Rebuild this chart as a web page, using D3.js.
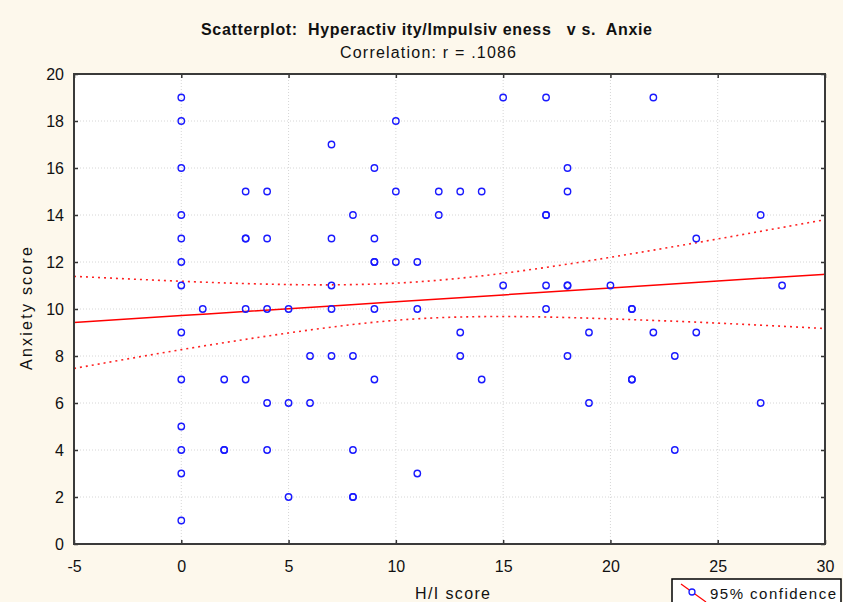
<!DOCTYPE html>
<html><head><meta charset="utf-8">
<script src="https://cdn.jsdelivr.net/npm/d3@7"></script>
<style>
html,body{margin:0;padding:0;background:#fdf8ec;}
svg{display:block;font-family:"Liberation Sans",Arial,sans-serif;}
</style></head>
<body><svg id="c" width="843" height="602"></svg>
<script>
// ---- data ----
const hiScores = [0,0,0,0,0,0,0,0,0,0,0,0,0,
  1, 2,2,2, 3,3,3,3,3, 4,4,4,4,4, 5,5,5, 6,6, 7,7,7,7,7, 8,8,8,8,8,
  9,9,9,9,9,9, 10,10,10, 11,11,11, 12,12, 13,13,13, 14,14, 15,15,
  17,17,17,17,17, 18,18,18,18,18, 19,19, 20, 21,21,21,21, 22,22, 23,23, 24,24, 27,27, 28];
const anxietyScores = [19,18,16,14,13,12,11,9,7,5,4,3,1,
  10, 7,4,4, 15,13,13,10,7, 15,13,10,6,4, 10,6,2, 8,6, 17,13,11,10,8, 14,8,4,2,2,
  16,13,12,12,10,7, 18,15,12, 12,10,3, 15,14, 15,9,8, 15,7, 19,11,
  19,14,14,11,10, 16,15,11,11,8, 9,6, 11, 10,10,7,7, 19,9, 8,4, 13,9, 14,6, 11];
const bandX     = [-5, 0, 5, 10, 15, 20, 25, 30];
const fitY      = [9.43, 9.72, 10.01, 10.31, 10.60, 10.89, 11.19, 11.48];
const upperY    = [11.39, 11.18, 11.04, 11.10, 11.52, 12.20, 12.98, 13.80];
const lowerY    = [7.47, 8.27, 8.98, 9.52, 9.68, 9.58, 9.40, 9.17];
const xTicks = [-5, 0, 5, 10, 15, 20, 25, 30];
const yTicks = [0, 2, 4, 6, 8, 10, 12, 14, 16, 18, 20];
const titleText = "Scatterplot:  Hyperactiv ity/Impulsiv eness   v s.  Anxie";
const subtitleText = "Correlation: r = .1086";
const xLabel = "H/I score";
const yLabel = "Anxiety score";
const legendText = "95% confidence";

// ---- layout ----
const L = 74, R = 825, T = 74, B = 544;
const svg = d3.select("#c");
const x = d3.scaleLinear().domain([-5, 30]).range([L, R]);
const y = d3.scaleLinear().domain([0, 20]).range([B, T]);

svg.append("rect").attr("x", L).attr("y", T).attr("width", R - L).attr("height", B - T).attr("fill", "#fff");

// grid
const g = svg.append("g");
g.selectAll("line.gx").data(xTicks.slice(1, -1)).join("line")
  .attr("x1", d => x(d)).attr("x2", d => x(d)).attr("y1", T).attr("y2", B)
  .attr("stroke", "#d6d6d6").attr("stroke-dasharray", "1,2").attr("stroke-width", 1);
g.selectAll("line.gy").data(yTicks.slice(1, -1)).join("line")
  .attr("x1", L).attr("x2", R).attr("y1", d => y(d)).attr("y2", d => y(d))
  .attr("stroke", "#d6d6d6").attr("stroke-dasharray", "1,2").attr("stroke-width", 1);

// axes (ticks inward)
const fmt = d => String(d);
const axB = d3.axisBottom(x).tickValues(xTicks).tickSize(-4).tickPadding(17).tickFormat(fmt);
const axT = d3.axisTop(x).tickValues(xTicks).tickSize(-4).tickFormat("");
const axLft = d3.axisLeft(y).tickValues(yTicks).tickSize(-4).tickPadding(10).tickFormat(fmt);
const axRt = d3.axisRight(y).tickValues(yTicks).tickSize(-4).tickFormat("");
function style(sel) {
  sel.select(".domain").remove();
  sel.selectAll(".tick line").attr("stroke", "#333").attr("stroke-width", 1.5);
  sel.selectAll(".tick text").attr("fill", "#111").style("font-size", "16px").style("font-family", "Liberation Sans, Arial, sans-serif");
}
svg.append("g").attr("transform", `translate(0,${B})`).call(axB).call(style);
svg.append("g").attr("transform", `translate(0,${T})`).call(axT).call(style);
svg.append("g").attr("transform", `translate(${L},0)`).call(axLft).call(style);
svg.append("g").attr("transform", `translate(${R},0)`).call(axRt).call(style);

// fit + bands
const line = d3.line().x(d => x(d[0])).y(d => y(d[1])).curve(d3.curveNatural);
svg.append("clipPath").attr("id", "pc").append("rect").attr("x", L).attr("y", T).attr("width", R - L).attr("height", B - T);
const pl = svg.append("g").attr("clip-path", "url(#pc)");
pl.append("path").attr("d", line(bandX.map((v, i) => [v, upperY[i]])))
  .attr("fill", "none").attr("stroke", "#ff2020").attr("stroke-width", 1.6).attr("stroke-dasharray", "2,4");
pl.append("path").attr("d", line(bandX.map((v, i) => [v, lowerY[i]])))
  .attr("fill", "none").attr("stroke", "#ff2020").attr("stroke-width", 1.6).attr("stroke-dasharray", "2,4");
pl.append("path").attr("d", line(bandX.map((v, i) => [v, fitY[i]])))
  .attr("fill", "none").attr("stroke", "#ff0000").attr("stroke-width", 1.5);

// points
pl.selectAll("circle").data(hiScores.map((v, i) => [v, anxietyScores[i]])).join("circle")
  .attr("cx", d => x(d[0])).attr("cy", d => y(d[1])).attr("r", 3.2)
  .attr("fill", "none").attr("stroke", "#1a1aff").attr("stroke-width", 1.4);

// frame
svg.append("rect").attr("x", L).attr("y", T).attr("width", R - L).attr("height", B - T)
  .attr("fill", "none").attr("stroke", "#3a3a3a").attr("stroke-width", 2);

// titles
function txt(t, xx, yy, w, size, bold) {
  const e = svg.append("text").attr("x", xx).attr("y", yy).attr("text-anchor", "middle")
    .style("font-size", size + "px").style("white-space", "pre").attr("fill", "#111")
    .attr("textLength", w).attr("lengthAdjust", "spacing").text(t);
  if (bold) e.style("font-weight", "bold");
  return e;
}
txt(titleText, 426.5, 35, 451, 16, true);
txt(subtitleText, 428, 58, 176, 16, false);
txt(xLabel, 452.5, 599, 75, 16, false);
txt(yLabel, 0, 0, 123, 16, false).attr("transform", "translate(32,308.5) rotate(-90)");

// legend
const lg = svg.append("g");
lg.append("rect").attr("x", 672).attr("y", 579).attr("width", 169).attr("height", 40)
  .attr("fill", "#fff").attr("stroke", "#000").attr("stroke-width", 1.5);
lg.append("line").attr("x1", 681).attr("y1", 584).attr("x2", 706).attr("y2", 602).attr("stroke", "#ff0000").attr("stroke-width", 1.2);
lg.append("circle").attr("cx", 692).attr("cy", 592).attr("r", 3).attr("fill", "#fff").attr("stroke", "#1a1aff").attr("stroke-width", 1.3);
lg.append("text").attr("x", 710).attr("y", 599).style("font-size", "15px").attr("fill", "#111")
  .attr("textLength", 126).attr("lengthAdjust", "spacing").text(legendText);
</script></body></html>
